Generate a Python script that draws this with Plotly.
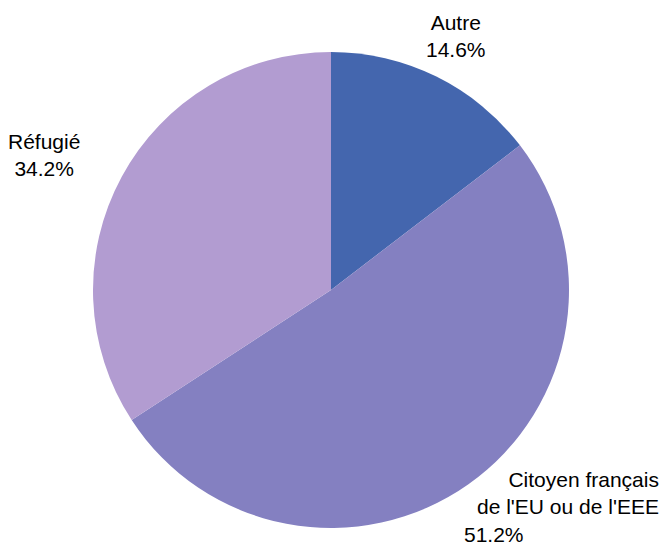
import math
import plotly.graph_objects as go

labels = ["Autre", "Citoyen français<br>de l'EU ou de l'EEE", "Réfugié"]
values = [14.6, 51.2, 34.2]
colors = ["#4466AE", "#8480C1", "#B29CD1"]

W, H = 668, 546
# pie geometry in figure pixels (body margin of 8px is added by the page)
CX, CY, R = 323, 282, 238
LABEL_R = 283
FONT = dict(family="Liberation Sans, Arial", size=21, color="#000000")

fig = go.Figure(go.Pie(
    labels=labels, values=values, sort=False, direction="clockwise", rotation=0,
    marker=dict(colors=colors, line=dict(width=0)),
    textinfo="none",
    domain=dict(x=[(CX - R) / W, (CX + R) / W], y=[1 - (CY + R) / H, 1 - (CY - R) / H]),
    showlegend=False, hoverinfo="label+percent",
))

total = sum(values)
cum = 0
annotations = []
for lab, v in zip(labels, values):
    theta = math.radians(360 * (cum + v / 2) / total)
    cum += v
    px = CX + LABEL_R * math.sin(theta)
    py = CY - LABEL_R * math.cos(theta)
    pct = f"{100 * v / total:.1f}%"
    common = dict(xref="paper", yref="paper", showarrow=False, font=FONT)
    if math.sin(theta) < -0.5:
        annotations.append(dict(text=f"{lab}<br>{pct}", x=px / W, y=1 - py / H,
                                xanchor="right", yanchor="middle", align="center", **common))
    elif math.cos(theta) > 0.7:
        annotations.append(dict(text=f"{lab}<br>{pct}", x=px / W, y=1 - py / H,
                                xanchor="center", yanchor="middle", align="center", **common))
    else:
        # bottom-right: name lines right-aligned, percentage left-aligned below
        right = px + 167
        left = px - 32
        top = py - 55
        annotations.append(dict(text=lab, x=right / W, y=1 - top / H,
                                xanchor="right", yanchor="top", align="right", **common))
        annotations.append(dict(text=pct, x=left / W, y=1 - (top + 2 * 27.3) / H,
                                xanchor="left", yanchor="top", align="left", **common))

fig.update_layout(width=W, height=H, margin=dict(l=0, r=0, t=0, b=0),
                  paper_bgcolor="white", plot_bgcolor="white", annotations=annotations)
fig.write_html("out.html")
